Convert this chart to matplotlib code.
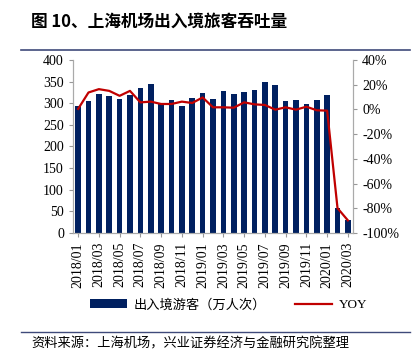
import matplotlib.pyplot as plt
import numpy as np

plt.rcParams['font.family'] = 'serif'
plt.rcParams['font.serif'] = ['Liberation Serif', 'DejaVu Serif']

months = ['2018/01', '2018/02', '2018/03', '2018/04', '2018/05', '2018/06', '2018/07',
          '2018/08', '2018/09', '2018/10', '2018/11', '2018/12', '2019/01', '2019/02',
          '2019/03', '2019/04', '2019/05', '2019/06', '2019/07', '2019/08', '2019/09',
          '2019/10', '2019/11', '2019/12', '2020/01', '2020/02', '2020/03']
passengers = [294, 305, 321, 317, 309, 318, 336, 345, 298, 308, 293, 311, 323, 310,
              329, 321, 326, 331, 348, 343, 306, 307, 298, 307, 319, 58, 29]
yoy = [0.4, 13.7, 16.4, 15.0, 11.0, 15.0, 5.7, 6.3, 4.4, 4.4, 6.3, 5.2, 9.7, 1.7,
       1.7, 1.4, 5.7, 4.1, 3.6, -0.2, 1.7, -0.2, 2.2, -0.7, -1.0, -79.9, -89.8]

bar_color = '#002060'
line_color = '#C00000'
cjk = ['Noto Sans CJK SC', 'DejaVu Sans']
mixed = ['Liberation Serif', 'Noto Sans CJK SC']

fig = plt.figure(figsize=(4.12, 3.56), dpi=100)
ax = fig.add_axes([0.177, 0.3455, 0.68, 0.486])
x = np.arange(len(months))
bars = ax.bar(x, passengers, width=0.55, color=bar_color)
ax.set_ylim(0, 400)
ax.set_yticks(range(0, 401, 50))
ax.set_xlim(-0.5, len(months) - 0.5)
ax.set_xticks(x[::2])
ax.set_xticklabels(months[::2], rotation=90)
ax.tick_params(axis='both', labelsize=10, length=3, color='#999999')

ax2 = ax.twinx()
line, = ax2.plot(x, yoy, color=line_color, lw=1.6)
ax2.set_ylim(-100, 40)
ax2.set_yticks(range(-100, 41, 20))
ax2.set_yticklabels(['%d%%' % v for v in range(-100, 41, 20)])
ax2.tick_params(axis='y', labelsize=10, length=3, color='#999999')

for a in (ax, ax2):
    a.spines['top'].set_visible(False)
    for s in ('left', 'right', 'bottom'):
        a.spines[s].set_color('#AAAAAA')

fig.legend([bars, line], ['出入境游客（万人次）', 'YOY'], loc='center', ncol=2,
           bbox_to_anchor=(0.555, 0.143), frameon=False, prop={'family': mixed, 'size': 9.5},
           handlelength=2.8, columnspacing=2.2, handletextpad=0.5)

fig.text(0.075, 0.938, '图 10、上海机场出入境旅客吞吐量', family=cjk, fontsize=12,
         fontweight='bold', va='center')
fig.add_artist(plt.Line2D([0.05, 0.995], [0.86, 0.86], color='#3F4A7A', lw=1.2))
fig.add_artist(plt.Line2D([0.05, 0.995], [0.068, 0.068], color='#3F4A7A', lw=1.0))
fig.text(0.075, 0.035, '资料来源：上海机场，兴业证券经济与金融研究院整理', family=cjk,
         fontsize=9.5, va='center')

fig.savefig('out.png', dpi=100)
